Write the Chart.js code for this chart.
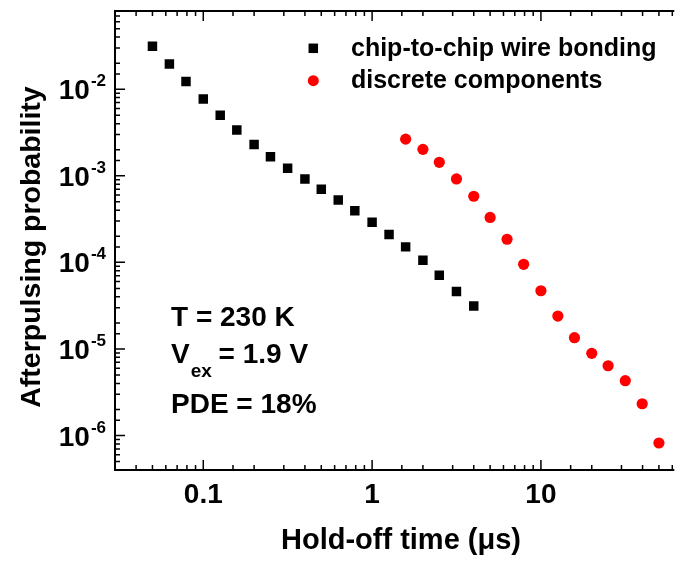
<!DOCTYPE html>
<html>
<head>
<meta charset="utf-8">
<script src="https://cdn.jsdelivr.net/npm/chart.js@4/dist/chart.umd.min.js"></script>
<style>
html,body{margin:0;padding:0;background:#fff;}
#wrap{width:679px;height:563px;position:relative;}
</style>
</head>
<body>
<div id="wrap"><canvas id="c" width="679" height="563"></canvas></div>
<script>
// ---- data ----
const wireX = [0.05,0.063,0.079,0.1,0.126,0.158,0.2,0.25,0.316,0.4,0.5,0.63,0.79,1,1.26,1.58,2,2.5,3.16,4];
const wireY = [3.13e-2,1.96e-2,1.23e-2,7.7e-3,5.0e-3,3.37e-3,2.3e-3,1.66e-3,1.22e-3,9.2e-4,7.0e-4,5.25e-4,3.95e-4,2.9e-4,2.1e-4,1.51e-4,1.06e-4,7.1e-5,4.6e-5,3.14e-5];
const discX = [1.58,2,2.5,3.16,4,5,6.3,7.9,10,12.6,15.8,20,25,31.6,39.8,50];
const discY = [2.65e-3,2.02e-3,1.43e-3,9.2e-4,5.8e-4,3.3e-4,1.85e-4,9.5e-5,4.7e-5,2.4e-5,1.35e-5,8.9e-6,6.4e-6,4.3e-6,2.33e-6,8.2e-7];
const seriesNames = ['chip-to-chip wire bonding','discrete components'];
const xTickLabels = [[0.1,'0.1'],[1,'1'],[10,'10']];
const yTickExps = [-2,-3,-4,-5,-6];
const xTitle = 'Hold-off time (\u03bcs)';
const yTitle = 'Afterpulsing probability';

const FONT = '"Liberation Sans", Arial, sans-serif';
function pts(xs, ys){ return xs.map((x,i)=>({x:x,y:ys[i]})); }

const decor = {
  id:'decor',
  afterDraw(chart){
    const ctx = chart.ctx, a = chart.chartArea;
    const xs = chart.scales.x, ys = chart.scales.y;
    ctx.save();
    ctx.strokeStyle = '#000';
    // axis lines
    ctx.lineWidth = 2;
    ctx.beginPath();
    ctx.moveTo(a.left, a.top); ctx.lineTo(a.left, a.bottom);
    ctx.moveTo(a.left-1, a.bottom); ctx.lineTo(a.right+2, a.bottom);
    ctx.moveTo(a.left-1, a.top); ctx.lineTo(a.right+2, a.top);
    ctx.stroke();
    // ticks
    ctx.lineWidth = 1.5;
    ctx.beginPath();
    xs.ticks.forEach(t=>{
      const v = t.value;
      const px = xs.getPixelForValue(v);
      if (px < a.left+1 || px > a.right+1) return;
      const maj = Math.abs(Math.log10(v) - Math.round(Math.log10(v))) < 1e-6;
      const L = maj ? 10 : 5;
      ctx.moveTo(px, a.bottom); ctx.lineTo(px, a.bottom - L);
      ctx.moveTo(px, a.top); ctx.lineTo(px, a.top + L);
    });
    ys.ticks.forEach(t=>{
      const v = t.value;
      const py = ys.getPixelForValue(v);
      if (py < a.top+1 || py > a.bottom-1) return;
      const maj = Math.abs(Math.log10(v) - Math.round(Math.log10(v))) < 1e-6;
      const L = maj ? 10 : 5;
      ctx.moveTo(a.left, py); ctx.lineTo(a.left + L, py);
    });
    ctx.stroke();

    ctx.fillStyle = '#000';
    // x tick labels
    ctx.font = 'bold 28px ' + FONT;
    ctx.textAlign = 'center';
    ctx.textBaseline = 'alphabetic';
    xTickLabels.forEach(([v,s])=>{
      ctx.fillText(s, xs.getPixelForValue(v), 503);
    });
    // y tick labels 10^n
    yTickExps.forEach(e=>{
      const py = ys.getPixelForValue(Math.pow(10,e));
      ctx.font = 'bold 17px ' + FONT;
      const sup = '-' + Math.abs(e);
      const sw = ctx.measureText(sup).width;
      ctx.textAlign = 'left';
      const right = 106;
      ctx.fillText(sup, right - sw, py - 3);
      ctx.font = 'bold 28px ' + FONT;
      const bw = ctx.measureText('10').width;
      ctx.fillText('10', right - sw - bw - 1, py + 10);
    });
    // axis titles
    ctx.font = 'bold 29px ' + FONT;
    ctx.textAlign = 'center';
    ctx.fillText(xTitle, 401, 549);
    ctx.save();
    ctx.translate(40, 247);
    ctx.rotate(-Math.PI/2);
    ctx.font = 'bold 28.5px ' + FONT;
    ctx.fillText(yTitle, 0, 0);
    ctx.restore();

    // legend
    ctx.fillStyle = '#000';
    ctx.fillRect(313.3-4.75, 48.3-4.75, 9.5, 9.5);
    ctx.fillStyle = '#ff0000';
    ctx.beginPath(); ctx.arc(313.3, 80.7, 5.5, 0, Math.PI*2); ctx.fill();
    ctx.fillStyle = '#000';
    ctx.font = 'bold 25px ' + FONT;
    ctx.textAlign = 'left';
    ctx.fillText(seriesNames[0], 351, 56);
    ctx.fillText(seriesNames[1], 351, 88);

    // annotations
    ctx.font = 'bold 28px ' + FONT;
    ctx.fillText('T = 230 K', 171, 326);
    ctx.fillText('V', 171, 363);
    let vw = ctx.measureText('V').width;
    ctx.font = 'bold 19px ' + FONT;
    ctx.fillText('ex', 171 + vw + 1, 377);
    let ew = ctx.measureText('ex').width;
    ctx.font = 'bold 28px ' + FONT;
    ctx.fillText(' = 1.9 V', 171 + vw + ew, 363);
    ctx.fillText('PDE = 18%', 171, 413);
    ctx.restore();
  }
};

new Chart(document.getElementById('c'), {
  type:'scatter',
  data:{
    datasets:[
      {label:seriesNames[0], data:pts(wireX,wireY), pointStyle:'rect', pointRadius:6.7, pointHoverRadius:6.7,
       backgroundColor:'#000', borderColor:'#000', borderWidth:0, showLine:false},
      {label:seriesNames[1], data:pts(discX,discY), pointStyle:'circle', pointRadius:5.6, pointHoverRadius:5.6,
       backgroundColor:'#ff0000', borderColor:'#ff0000', borderWidth:0, showLine:false}
    ]
  },
  options:{
    responsive:false,
    animation:false,
    events:[],
    layout:{padding:{top:11, right:1, left:0, bottom:0}},
    plugins:{legend:{display:false}, tooltip:{enabled:false}},
    scales:{
      x:{type:'logarithmic', min:0.03, max:60,
         grid:{display:false}, border:{display:false},
         ticks:{display:false},
         afterFit(s){ s.height = 93; }},
      y:{type:'logarithmic', min:4e-7, max:0.08,
         grid:{display:false}, border:{display:false},
         ticks:{display:false},
         afterFit(s){ s.width = 115; }}
    }
  },
  plugins:[decor]
});
</script>
</body>
</html>
